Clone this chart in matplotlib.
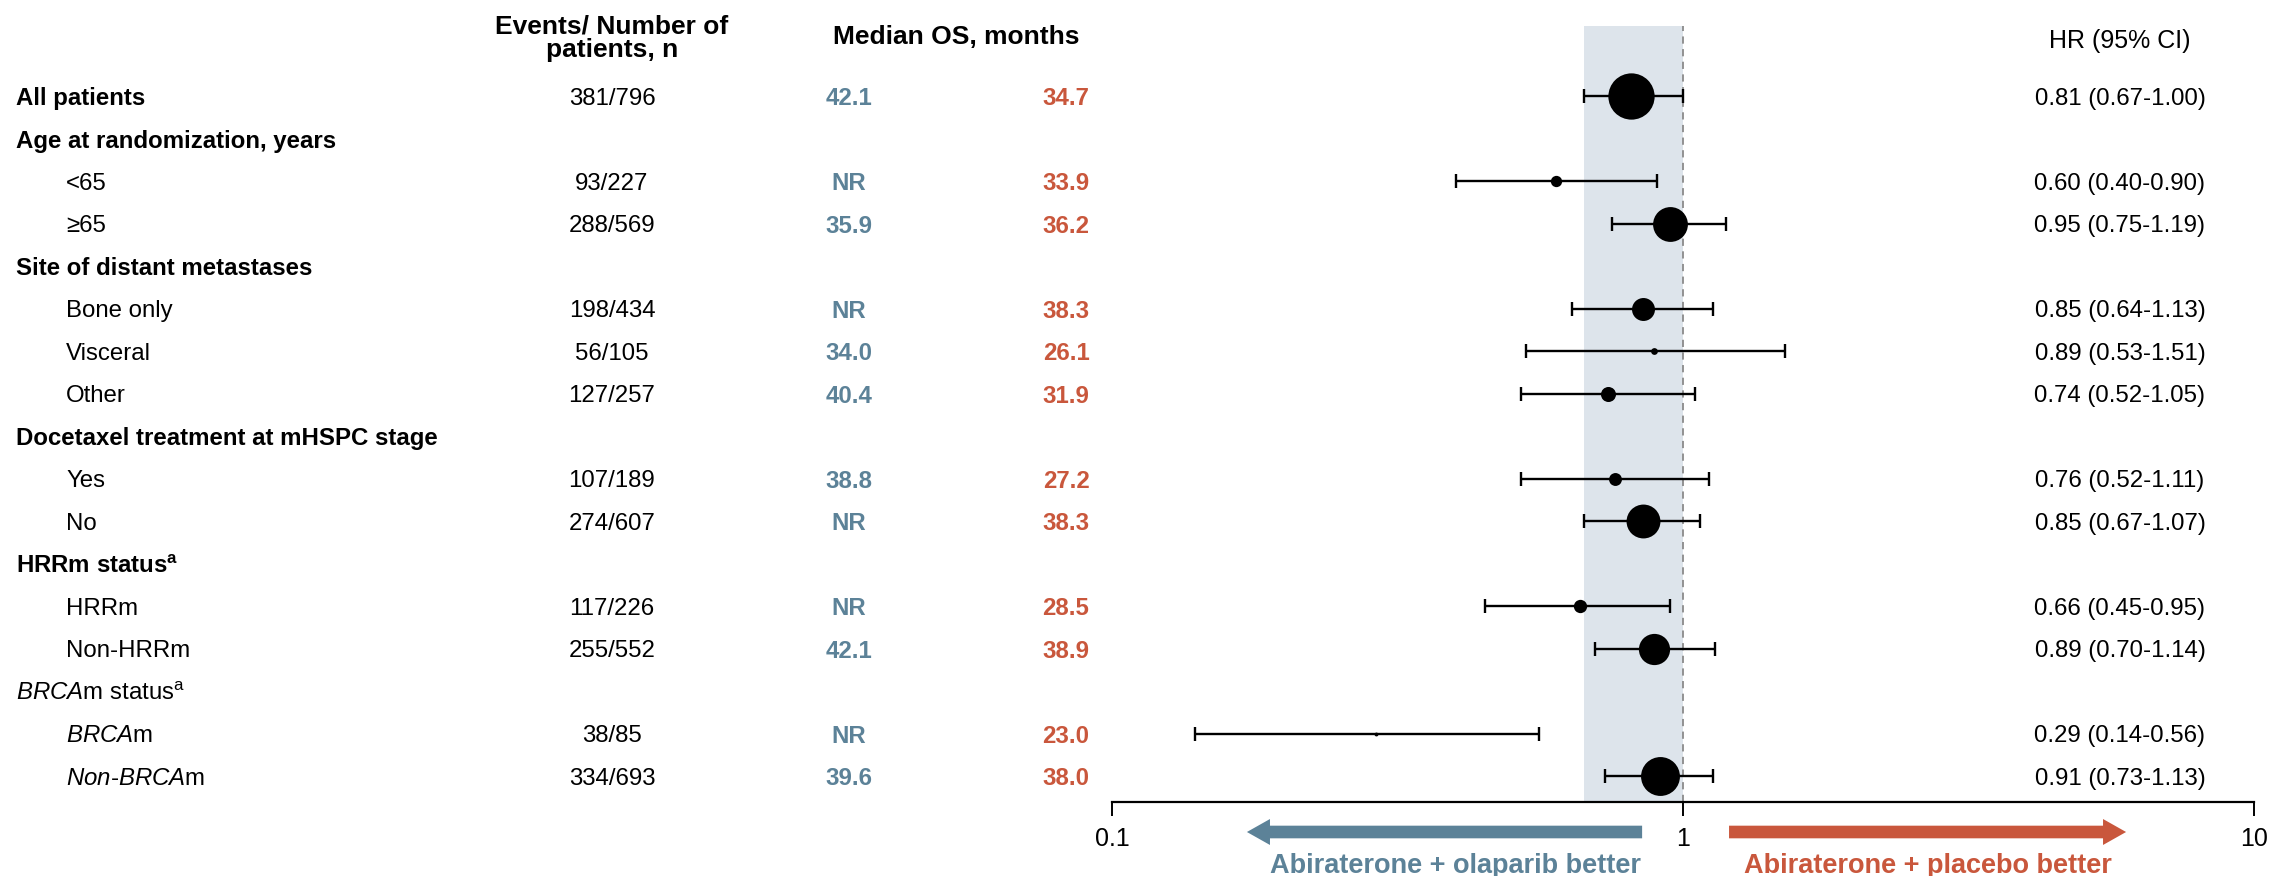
import numpy as np
import matplotlib

matplotlib.use("Agg")
import matplotlib.pyplot as plt
from matplotlib import transforms
from matplotlib.ticker import NullLocator

plt.rcParams["font.family"] = ["Liberation Sans", "DejaVu Sans"]
plt.rcParams["mathtext.fontset"] = "custom"
plt.rcParams["mathtext.rm"] = "Liberation Sans"
plt.rcParams["mathtext.it"] = "Liberation Sans:italic"
plt.rcParams["mathtext.bf"] = "Liberation Sans:bold"
plt.rcParams["mathtext.default"] = "regular"

# --- data ---
labels = [
    "All patients",
    "Age at randomization, years",
    "<65",
    "≥65",
    "Site of distant metastases",
    "Bone only",
    "Visceral",
    "Other",
    "Docetaxel treatment at mHSPC stage",
    "Yes",
    "No",
    r"HRRm status$^{a}$",
    "HRRm",
    "Non-HRRm",
    r"$\mathit{BRCA}$m status$^{a}$",
    r"$\mathit{BRCA}$m",
    r"$\mathit{Non}$-$\mathit{BRCA}$m",
]
level = [0, 0, 1, 1, 0, 1, 1, 1, 0, 1, 1, 0, 1, 1, 0, 1, 1]
events = ["381/796", "", "93/227", "288/569", "", "198/434", "56/105", "127/257", "",
          "107/189", "274/607", "", "117/226", "255/552", "", "38/85", "334/693"]
os_olaparib = ["42.1", "", "NR", "35.9", "", "NR", "34.0", "40.4", "",
               "38.8", "NR", "", "NR", "42.1", "", "NR", "39.6"]
os_placebo = ["34.7", "", "33.9", "36.2", "", "38.3", "26.1", "31.9", "",
              "27.2", "38.3", "", "28.5", "38.9", "", "23.0", "38.0"]
hr = [0.81, np.nan, 0.60, 0.95, np.nan, 0.85, 0.89, 0.74, np.nan,
      0.76, 0.85, np.nan, 0.66, 0.89, np.nan, 0.29, 0.91]
ci_lo = [0.67, np.nan, 0.40, 0.75, np.nan, 0.64, 0.53, 0.52, np.nan,
         0.52, 0.67, np.nan, 0.45, 0.70, np.nan, 0.14, 0.73]
ci_hi = [1.00, np.nan, 0.90, 1.19, np.nan, 1.13, 1.51, 1.05, np.nan,
         1.11, 1.07, np.nan, 0.95, 1.14, np.nan, 0.56, 1.13]

BLUE = "#5C8298"
RED = "#C9573C"
BAND = "#DDE4EB"
FS = 17.3       # table body
FS_HEAD = 19    # bold column headers
FS_ARROW = 19.5

W, H = 2272, 876
fig = plt.figure(figsize=(W / 100, H / 100), dpi=100)
ax = fig.add_axes([1112 / W, (H - 802) / H, 1142 / W, (802 - 26) / H])

n = len(labels)
ax.set_xscale("log")
ax.set_xlim(0.1, 10)
ax.set_ylim(16.61, -1.647)

# shaded band = overall CI, reference line at HR = 1
ax.axvspan(ci_lo[0], ci_hi[0], color=BAND, lw=0, zorder=0)
ax.axvline(1, color="#8a8a8a", lw=1.3, ls=(0, (4, 3)), zorder=1)

for i in range(n):
    if np.isnan(hr[i]):
        continue
    ax.errorbar(hr[i], i, xerr=[[hr[i] - ci_lo[i]], [ci_hi[i] - hr[i]]],
                fmt="none", ecolor="black", elinewidth=1.7, capsize=5,
                capthick=1.7, zorder=2)
    # marker diameter proportional to inverse variance of log HR
    w = (3.92 / np.log(ci_hi[i] / ci_lo[i])) ** 2
    ms = 0.483 * w * 72 / 100
    ax.plot(hr[i], i, "o", color="black", ms=ms, mew=0, zorder=3)

for s in ["top", "left", "right"]:
    ax.spines[s].set_visible(False)
ax.spines["bottom"].set_linewidth(1.6)
ax.set_yticks([])
ax.set_xticks([0.1, 1, 10])
ax.set_xticklabels(["0.1", "1", "10"])
ax.xaxis.set_minor_locator(NullLocator())
ax.tick_params(axis="x", length=10, width=1.4, pad=8, labelsize=18)

# table columns
tr = transforms.blended_transform_factory(fig.transFigure, ax.transData)
for i in range(n):
    bold = level[i] == 0 and "BRCA" not in labels[i]
    x0 = 16 if level[i] == 0 else 66
    ax.text(x0 / W, i, labels[i], transform=tr, ha="left", va="center_baseline",
            fontsize=FS, fontweight="bold" if bold else "normal")
    if events[i]:
        ax.text(612 / W, i, events[i], transform=tr, ha="center",
                va="center_baseline", fontsize=FS)
        ax.text(849 / W, i, os_olaparib[i], transform=tr, ha="center",
                va="center_baseline", fontsize=FS, fontweight="bold", color=BLUE)
        ax.text(1066 / W, i, os_placebo[i], transform=tr, ha="center",
                va="center_baseline", fontsize=FS, fontweight="bold", color=RED)
    if not np.isnan(hr[i]):
        ax.text(2120 / W, i, f"{hr[i]:.2f} ({ci_lo[i]:.2f}-{ci_hi[i]:.2f})",
                transform=tr, ha="center", va="center_baseline", fontsize=FS)

# headers
fig.text(612 / W, 1 - 27 / H, "Events/ Number of", ha="center", va="center",
         fontsize=FS_HEAD, fontweight="bold")
fig.text(612 / W, 1 - 50 / H, "patients, n", ha="center", va="center",
         fontsize=FS_HEAD, fontweight="bold")
fig.text(956 / W, 1 - 37 / H, "Median OS, months", ha="center", va="center",
         fontsize=FS_HEAD, fontweight="bold")
fig.text(2120 / W, 1 - 41 / H, "HR (95% CI)", ha="center", va="center",
         fontsize=18)

# direction arrows
ta = transforms.blended_transform_factory(ax.transData, fig.transFigure)
arrow_y = 1 - 832 / H
style = "simple,head_length=1.66,head_width=1.87,tail_width=0.91"
ax.annotate("", xy=(0.1723, arrow_y), xytext=(0.848, arrow_y), xycoords=ta,
            textcoords=ta, annotation_clip=False,
            arrowprops=dict(arrowstyle=style, mutation_scale=10, color=BLUE,
                            shrinkA=0, shrinkB=0, lw=0))
ax.annotate("", xy=(5.97, arrow_y), xytext=(1.204, arrow_y), xycoords=ta,
            textcoords=ta, annotation_clip=False,
            arrowprops=dict(arrowstyle=style, mutation_scale=10, color=RED,
                            shrinkA=0, shrinkB=0, lw=0))
ax.text(0.399, 1 - 866 / H, "Abiraterone + olaparib better", transform=ta,
        ha="center", va="center", fontsize=FS_ARROW, fontweight="bold", color=BLUE)
ax.text(2.69, 1 - 866 / H, "Abiraterone + placebo better", transform=ta,
        ha="center", va="center", fontsize=FS_ARROW, fontweight="bold", color=RED)

fig.savefig("out.png", dpi=100)
